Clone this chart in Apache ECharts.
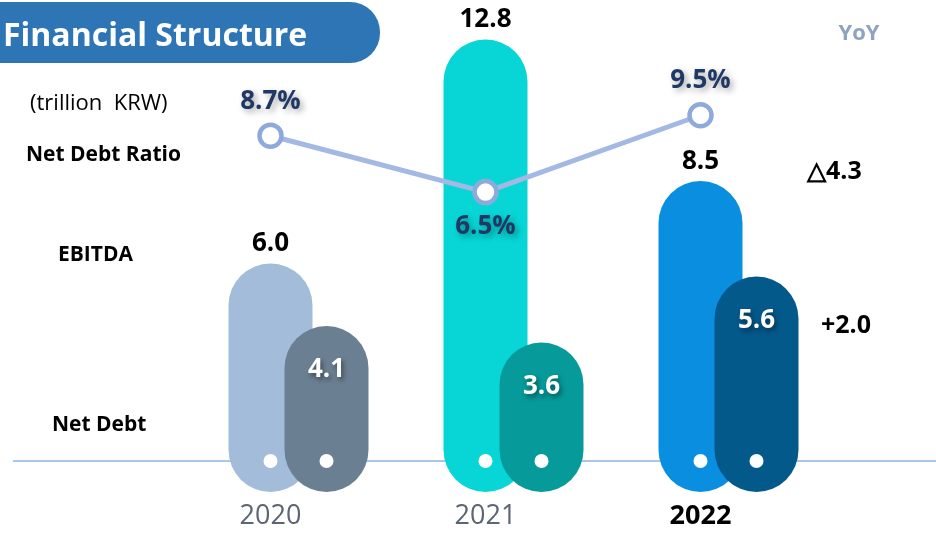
<!DOCTYPE html>
<html>
<head>
<meta charset="utf-8">
<script src="https://cdn.jsdelivr.net/npm/echarts@6/dist/echarts.min.js"></script>
<style>
  html, body { margin: 0; padding: 0; background: #ffffff; }
  #chart { width: 936px; height: 536px; }
</style>
</head>
<body>
<div id="chart"></div>
<script>
// Financial structure: EBITDA / Net Debt (trillion KRW) and Net Debt Ratio (%)
const years = ['2020', '2021', '2022'];
const ebitda = [6.0, 12.8, 8.5];
const netDebt = [4.1, 3.6, 5.6];
const netDebtRatio = [8.7, 6.5, 9.5];
const yoyEbitda = '△4.3';
const yoyNetDebt = '+2.0';

const ebitdaColors = ['#a2bcd9', '#08d6d6', '#0a8fe0'];
const netDebtColors = ['#6b7f92', '#069a9a', '#04598b'];

const FONT = '"Open Sans", "Noto Sans", sans-serif';
const PILL_W = 84;
const PILL_TAIL = 31;

// Pill-shaped bar: rounded cap at the value, rounded tail below the zero line,
// white dot sitting on the zero line, value text above or inside.
function pillSeries(name, values, colors, offset, label) {
  return {
    name: name,
    type: 'custom',
    xAxisIndex: 0,
    yAxisIndex: 0,
    z: label.z,
    data: values.map((v, i) => [i, v]),
    renderItem: function (params, api) {
      const i = api.value(0);
      const v = api.value(1);
      const top = api.coord([i, v]);
      const base = api.coord([i, 0]);
      const cx = top[0] + offset;
      const r = PILL_W / 2;
      const bottom = base[1] + PILL_TAIL;
      return {
        type: 'group',
        children: [
          {
            type: 'rect',
            shape: { x: cx - r, y: top[1], width: PILL_W, height: bottom - top[1], r: r },
            style: { fill: colors[i] }
          },
          {
            type: 'circle',
            shape: { cx: cx, cy: base[1], r: 7 },
            style: { fill: '#ffffff' }
          },
          {
            type: 'text',
            x: cx,
            y: top[1] + label.dy,
            style: {
              text: v.toFixed(1),
              fill: label.color,
              font: 'bold 26px ' + FONT,
              align: 'center',
              verticalAlign: 'middle',
              textShadowColor: label.shadow,
              textShadowBlur: label.shadow ? 5 : 0,
              textShadowOffsetX: label.shadow ? 2 : 0,
              textShadowOffsetY: label.shadow ? 3 : 0
            }
          }
        ]
      };
    }
  };
}

const chart = echarts.init(document.getElementById('chart'), null, { renderer: 'canvas' });

const option = {
  animation: false,
  backgroundColor: '#ffffff',
  grid: { left: 163, right: 128, top: 0, bottom: 75 },
  xAxis: {
    type: 'category',
    data: years,
    axisLine: { show: false },
    axisTick: { show: false },
    axisLabel: {
      margin: 42,
      fontSize: 27,
      fontFamily: FONT,
      color: '#5b6573',
      formatter: v => v === years[years.length - 1] ? '{cur|' + v + '}' : v,
      rich: { cur: { fontSize: 27, fontWeight: 'bold', color: '#000000', fontFamily: FONT } }
    }
  },
  yAxis: [
    { type: 'value', min: 0, max: 14, show: false },
    { type: 'value', min: -4, max: 14, show: false }
  ],
  series: [
    pillSeries('EBITDA', ebitda, ebitdaColors, 0, { dy: -20, color: '#000000', shadow: null, z: 2 }),
    pillSeries('Net Debt', netDebt, netDebtColors, 56, { dy: 44, color: '#ffffff', shadow: 'rgba(0,0,0,0.45)', z: 3 }),
    {
      name: 'Net Debt Ratio',
      type: 'line',
      xAxisIndex: 0,
      yAxisIndex: 1,
      z: 5,
      data: netDebtRatio.map((v, i) => ({
        value: v,
        label: { position: i === 1 ? 'bottom' : 'top' }
      })),
      symbol: 'circle',
      symbolSize: 22,
      itemStyle: { color: '#ffffff', borderColor: '#8eaadb', borderWidth: 4.5 },
      lineStyle: { color: '#a4b8e4', width: 5 },
      label: {
        show: true,
        distance: 8,
        formatter: '{c}%',
        fontSize: 26,
        fontWeight: 'bold',
        fontFamily: FONT,
        color: '#203864',
        textShadowColor: 'rgba(0,0,0,0.35)',
        textShadowBlur: 6,
        textShadowOffsetX: 3,
        textShadowOffsetY: 3
      }
    }
  ]
};

chart.setOption(option);

// Zero line across the full width, placed from the value axis.
const zeroY = chart.convertToPixel({ yAxisIndex: 0 }, 0);

chart.setOption({
  graphic: [
    {
      type: 'line',
      z: 0,
      shape: { x1: 13, y1: zeroY, x2: 936, y2: zeroY },
      style: { stroke: '#8db4e2', lineWidth: 1.5 }
    },
    {
      type: 'rect',
      z: 10,
      shape: { x: 0, y: 2, width: 380, height: 61, r: [0, 30, 30, 0] },
      style: { fill: '#2e75b6' }
    },
    {
      type: 'text', z: 11, x: 3, y: 37,
      style: { text: 'Financial Structure', fill: '#ffffff', font: 'bold 32px ' + FONT, verticalAlign: 'middle' }
    },
    {
      type: 'text', z: 11, x: 30, y: 104,
      style: { text: '(trillion  KRW)', fill: '#000000', font: '22px ' + FONT, verticalAlign: 'middle' }
    },
    {
      type: 'text', z: 11, x: 26, y: 155,
      style: { text: 'Net Debt Ratio', fill: '#000000', font: 'bold 21px ' + FONT, verticalAlign: 'middle' }
    },
    {
      type: 'text', z: 11, x: 58, y: 255,
      style: { text: 'EBITDA', fill: '#000000', font: 'bold 21px ' + FONT, verticalAlign: 'middle' }
    },
    {
      type: 'text', z: 11, x: 52, y: 425,
      style: { text: 'Net Debt', fill: '#000000', font: 'bold 21px ' + FONT, verticalAlign: 'middle' }
    },
    {
      type: 'text', z: 11, x: 859, y: 34,
      style: { text: 'YoY', fill: '#8ea3c1', font: 'bold 22px ' + FONT, align: 'center', verticalAlign: 'middle' }
    },
    {
      type: 'text', z: 11, x: 807, y: 172,
      style: { text: yoyEbitda, fill: '#000000', font: 'bold 25px ' + FONT, verticalAlign: 'middle' }
    },
    {
      type: 'text', z: 11, x: 821, y: 326,
      style: { text: yoyNetDebt, fill: '#000000', font: 'bold 25px ' + FONT, verticalAlign: 'middle' }
    }
  ]
});
</script>
</body>
</html>
